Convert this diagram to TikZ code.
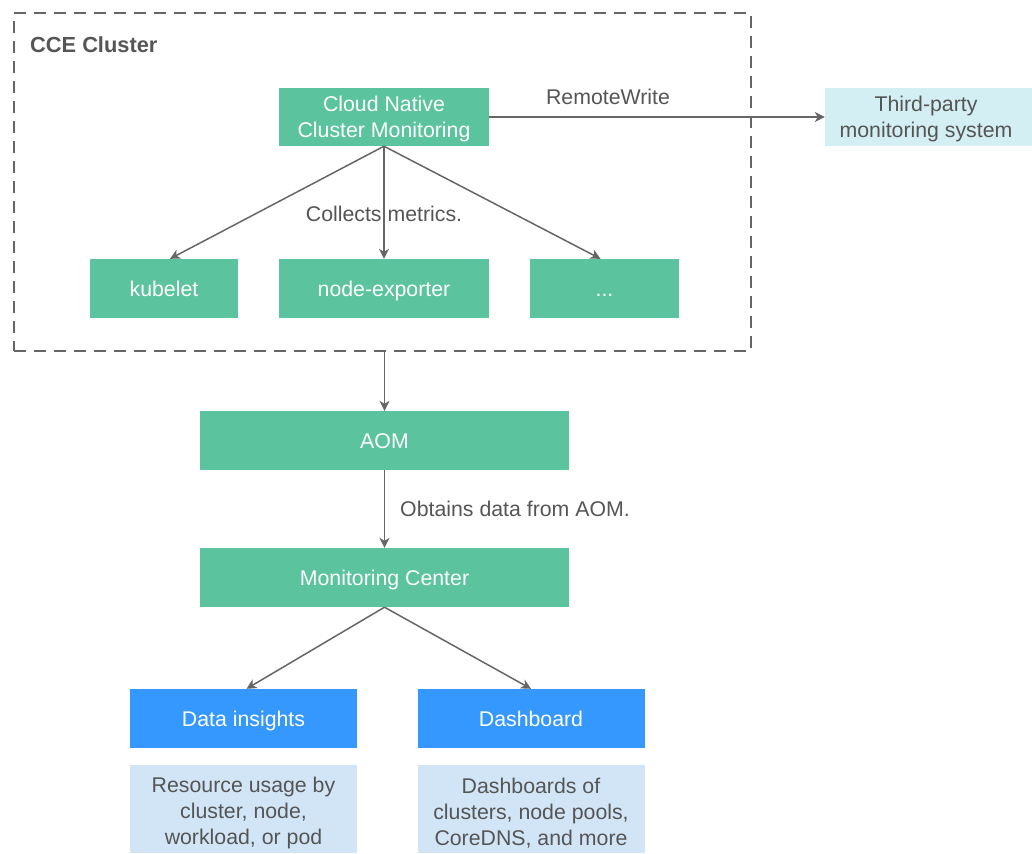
\documentclass[tikz,border=0pt]{standalone}
\usepackage{fontspec}
\setmainfont{Liberation Sans}
\usetikzlibrary{arrows.meta}
\definecolor{boxgreen}{HTML}{5BC49F}
\definecolor{boxblue}{HTML}{3598FE}
\definecolor{paleblue}{HTML}{D2E5F7}
\definecolor{palecyan}{HTML}{D3EFF4}
\definecolor{linegray}{HTML}{666666}
\definecolor{textgray}{HTML}{555555}
\tikzset{
  basefont/.style={font=\fontsize{21.3}{25.8}\selectfont},
  oneline/.style={text height=15.5pt, text depth=0.5pt},
  gbox/.style={rectangle, fill=boxgreen, text=white, inner sep=0pt, align=center, basefont},
  bbox/.style={rectangle, fill=boxblue, text=white, inner sep=0pt, align=center, basefont, oneline,
               minimum width=227, minimum height=59},
  notebox/.style={rectangle, fill=paleblue, inner sep=0pt, minimum width=227, minimum height=88},
  multitext/.style={inner sep=0pt, align=center, basefont},
  lbl/.style={text=textgray, inner sep=0pt, basefont},
  arr/.style={draw=linegray, line width=1.5pt, -{Stealth[length=10pt,width=10pt,inset=3pt]}},
}
\begin{document}
\begin{tikzpicture}[x=1pt,y=-1pt]
\useasboundingbox (0,0) rectangle (1032,853);

% cluster boundary
\node[draw=linegray, line width=2.4pt, dash pattern=on 12pt off 8pt,
      minimum width=737, minimum height=338, inner sep=0pt] (cluster) at (382.5,182) {};
\node[anchor=west, text=textgray, inner sep=0pt, font=\fontsize{21.8}{26}\selectfont\bfseries] (title) at (30,45) {CCE Cluster};

% components inside the cluster
\node[gbox, minimum width=210, minimum height=58] (cnm) at (384,117) {};
\node[multitext, text=white] (cnmtext) at (384,119) {Cloud Native\\Cluster Monitoring};
\node[gbox, oneline, minimum width=148, minimum height=59] (kub) at (164,288.5) {kubelet};
\node[gbox, oneline, minimum width=210, minimum height=59] (nexp) at (384,288.5) {node-exporter};
\node[gbox, oneline, minimum width=149, minimum height=59] (more) at (604.5,288.5) {...};

% external system
\node[rectangle, fill=palecyan, inner sep=0pt, minimum width=207, minimum height=58] (third) at (928.5,117) {};
\node[multitext, text=textgray] (thirdtext) at (926,119) {Third-party\\monitoring system};

% AOM and monitoring center
\node[gbox, oneline, minimum width=369, minimum height=59] (aom) at (384.5,440.5) {AOM};
\node[gbox, oneline, minimum width=369, minimum height=59] (mc) at (384.5,577.5) {Monitoring Center};

% outputs
\node[bbox] (insights) at (243.5,718.5) {Data insights};
\node[bbox] (dash) at (531,718.5) {Dashboard};
\node[notebox] (usage) at (243.5,809) {};
\node[multitext, text=textgray] (usagetext) at (243.5,813) {Resource usage by\\cluster, node,\\workload, or pod};
\node[notebox] (boards) at (531,809) {};
\node[multitext, text=textgray] (boardstext) at (531,813) {Dashboards of\\clusters, node pools,\\CoreDNS, and more};

% connectors
\draw[arr] (cnm.east) -- (third.west);
\node[lbl] (rw) at (608,97) {RemoteWrite};
\draw[arr] (cnm.south) -- ([xshift=6pt]kub.north);
\draw[arr] (cnm.south) -- (nexp.north);
\draw[arr] (cnm.south) -- ([xshift=-4pt]more.north);
\node[lbl] (collect) at (384,214) {Collects metrics.};
\draw[arr] (cluster.south -| aom.north) -- (aom.north);
\draw[arr] (aom.south) -- (mc.north);
\node[lbl, anchor=west] (obtain) at (400,509) {Obtains data from AOM.};
\draw[arr] (mc.south) -- ([xshift=3pt]insights.north);
\draw[arr] (mc.south) -- (dash.north);
\end{tikzpicture}
\end{document}
